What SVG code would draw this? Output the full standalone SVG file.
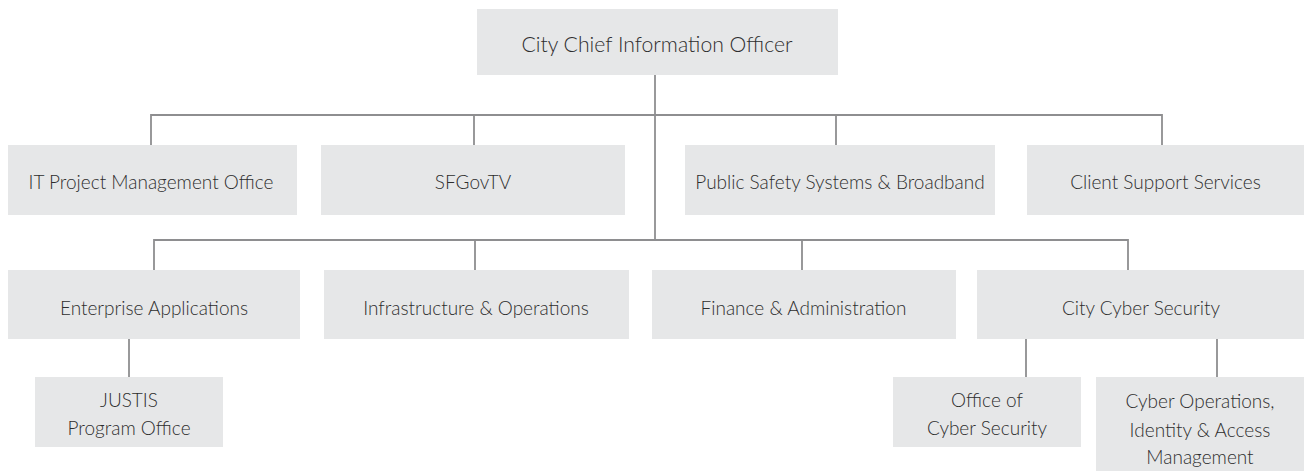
<svg xmlns="http://www.w3.org/2000/svg" width="1304" height="471" viewBox="0 0 1304 471">
<style>
.box{fill:#e6e7e8;}
.lbl{font-family:Lato,"Liberation Sans",sans-serif;font-weight:300;font-size:19px;fill:#2e2e2e;text-anchor:middle;}
.big{font-size:21.2px;}
.conn{stroke:#8e8e90;stroke-width:1.8;fill:none;}
</style>
<rect width="1304" height="471" fill="#ffffff"/>
<g id="connectors">
<path class="conn" d="M655 75V240"/>
<path class="conn" d="M151 145V115H1162V145"/>
<path class="conn" d="M474 115V145M836 115V145"/>
<path class="conn" d="M154 270V240H1128V270"/>
<path class="conn" d="M475 240V270M802 240V270"/>
<path class="conn" d="M129 339V377"/>
<path class="conn" d="M1026 339V377M1217 339V377"/>
</g>
<g id="cio"><rect class="box" x="477" y="9" width="361" height="66"/><text class="lbl big" x="657" y="52">City Chief Information Officer</text></g>
<g id="itpmo"><rect class="box" x="8" y="145" width="289" height="70"/><text class="lbl" x="151" y="189">IT Project Management Office</text></g>
<g id="sfgovtv"><rect class="box" x="321" y="145" width="304" height="70"/><text class="lbl" x="473" y="189">SFGovTV</text></g>
<g id="pssb"><rect class="box" x="685" y="145" width="310" height="70"/><text class="lbl" x="840" y="189">Public Safety Systems &amp; Broadband</text></g>
<g id="css"><rect class="box" x="1027" y="145" width="277" height="70"/><text class="lbl" x="1165.5" y="189">Client Support Services</text></g>
<g id="ea"><rect class="box" x="8" y="270" width="292" height="69"/><text class="lbl" x="154" y="315">Enterprise Applications</text></g>
<g id="io"><rect class="box" x="324" y="270" width="305" height="69"/><text class="lbl" x="476" y="315">Infrastructure &amp; Operations</text></g>
<g id="fa"><rect class="box" x="652" y="270" width="304" height="69"/><text class="lbl" x="803.5" y="315">Finance &amp; Administration</text></g>
<g id="ccs"><rect class="box" x="977" y="270" width="327" height="69"/><text class="lbl" x="1141" y="315">City Cyber Security</text></g>
<g id="justis"><rect class="box" x="35" y="377" width="188" height="70"/><text class="lbl" x="129" y="407">JUSTIS</text><text class="lbl" x="129" y="435">Program Office</text></g>
<g id="ocs"><rect class="box" x="893" y="377" width="188" height="70"/><text class="lbl" x="987" y="407">Office of</text><text class="lbl" x="987" y="435">Cyber Security</text></g>
<g id="coiam"><rect class="box" x="1096" y="377" width="208" height="94"/><text class="lbl" x="1200" y="408">Cyber Operations,</text><text class="lbl" x="1200" y="437">Identity &amp; Access</text><text class="lbl" x="1200" y="464">Management</text></g>
</svg>
